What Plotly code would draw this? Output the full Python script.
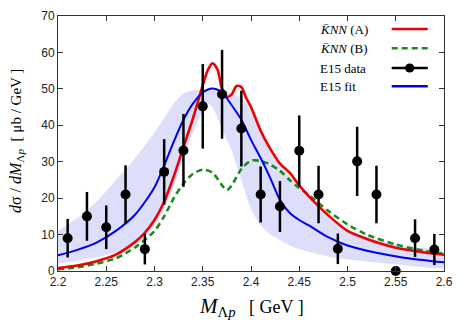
import plotly.graph_objects as go

# E15 data points
data_x = [2.21, 2.23, 2.25, 2.27, 2.29, 2.31, 2.33, 2.35, 2.37, 2.39,
          2.41, 2.43, 2.45, 2.47, 2.49, 2.51, 2.53, 2.55, 2.57, 2.59]
data_y = [9.0, 15.0, 12.0, 21.0, 6.0, 27.2, 33.1, 45.2, 48.5, 39.1,
          21.0, 17.7, 33.0, 21.0, 6.1, 30.1, 21.0, 0.0, 9.0, 5.9]
data_err = [5.3, 6.7, 6.0, 8.0, 4.2, 9.0, 10.0, 11.6, 12.2, 10.4,
            7.7, 7.0, 9.7, 7.9, 4.2, 9.5, 7.9, 0.0, 5.2, 4.3]

# KNN (A)
red_x = [2.20, 2.22, 2.24, 2.26, 2.28, 2.29, 2.30, 2.31, 2.32, 2.33, 2.34, 2.35,
         2.355, 2.36, 2.365, 2.37, 2.375, 2.38, 2.385, 2.39, 2.395, 2.40, 2.41,
         2.42, 2.43, 2.44, 2.45, 2.46, 2.47, 2.48, 2.50, 2.52, 2.55, 2.58, 2.60]
red_y = [0.8, 1.5, 2.7, 4.5, 8.0, 10.5, 14.0, 19.0, 26.0, 34.0, 42.0, 51.0,
         55.0, 57.0, 55.5, 50.0, 47.8, 48.5, 50.8, 50.5, 47.5, 45.0, 38.5,
         33.5, 29.5, 27.0, 23.5, 20.5, 17.8, 15.3, 11.0, 8.8, 6.4, 5.1, 4.5]

# KNN (B)
green_x = [2.20, 2.22, 2.24, 2.26, 2.28, 2.30, 2.31, 2.32, 2.33, 2.34, 2.35, 2.36,
           2.37, 2.375, 2.38, 2.39, 2.40, 2.41, 2.42, 2.43, 2.44, 2.45, 2.46,
           2.48, 2.50, 2.52, 2.55, 2.58, 2.60]
green_y = [0.5, 1.0, 2.0, 3.5, 6.5, 11.0, 15.0, 20.0, 24.0, 26.7, 27.8, 27.0,
           23.5, 22.2, 23.5, 28.0, 30.3, 30.2, 29.2, 27.5, 25.0, 22.8, 20.8,
           16.5, 12.8, 10.0, 7.3, 5.5, 4.7]

# E15 fit
blue_x = [2.20, 2.22, 2.24, 2.26, 2.28, 2.30, 2.31, 2.32, 2.33, 2.34, 2.35, 2.36,
          2.37, 2.38, 2.39, 2.40, 2.41, 2.42, 2.43, 2.44, 2.45, 2.46, 2.48,
          2.50, 2.53, 2.56, 2.60]
blue_y = [4.3, 5.8, 7.8, 11.0, 15.5, 23.0, 29.0, 35.5, 41.5, 46.0, 49.0, 50.1,
          49.0, 45.5, 41.5, 36.0, 31.0, 25.5, 19.5, 16.0, 14.0, 12.5, 9.3,
          7.0, 5.0, 3.6, 2.4]

# E15 fit uncertainty band
band_x = [2.20, 2.22, 2.24, 2.26, 2.28, 2.29, 2.30, 2.31, 2.32, 2.33, 2.34, 2.35,
          2.355, 2.36, 2.37, 2.38, 2.39, 2.40, 2.41, 2.42, 2.43, 2.44, 2.45,
          2.46, 2.48, 2.50, 2.53, 2.56, 2.60]
band_hi = [11.0, 14.5, 19.0, 25.0, 31.0, 34.5, 38.0, 42.0, 46.0, 48.7, 49.6, 49.8,
           49.8, 49.8, 49.7, 48.8, 47.5, 44.5, 38.0, 33.0, 29.0, 26.0, 22.5,
           20.0, 15.5, 11.5, 8.5, 6.7, 5.2]
band_lo = [2.0, 2.8, 3.8, 5.0, 7.5, 9.5, 12.5, 17.0, 23.0, 31.0, 38.0, 44.0,
           46.0, 45.0, 39.0, 33.0, 25.0, 17.0, 12.5, 10.0, 8.5, 7.0, 6.0,
           5.3, 4.0, 3.2, 2.3, 1.6, 1.0]

x_ticks = [2.2, 2.25, 2.3, 2.35, 2.4, 2.45, 2.5, 2.55, 2.6]
x_labels = ["2.2", "2.25", "2.3", "2.35", "2.4", "2.45", "2.5", "2.55", "2.6"]

RED = "#f00000"
GREEN = "#1a8a1a"
BLUE = "#0000ee"
BAND = "rgb(221,223,250)"

fig = go.Figure()

# band as a closed polygon
fig.add_trace(go.Scatter(
    x=band_x + band_x[::-1], y=band_hi + band_lo[::-1],
    fill="toself", fillcolor=BAND, line=dict(width=0, shape="spline", smoothing=0.6),
    mode="lines", hoverinfo="skip", showlegend=False))

fig.add_trace(go.Scatter(x=green_x, y=green_y, mode="lines", showlegend=False,
                         line=dict(color=GREEN, width=2.6, dash="6px,4px",
                                   shape="spline", smoothing=0.8)))
fig.add_trace(go.Scatter(x=red_x, y=red_y, mode="lines", showlegend=False,
                         line=dict(color=RED, width=2.6, shape="spline", smoothing=0.8)))
fig.add_trace(go.Scatter(x=blue_x, y=blue_y, mode="lines", showlegend=False,
                         line=dict(color=BLUE, width=2, shape="spline", smoothing=0.8)))
fig.add_trace(go.Scatter(
    x=data_x, y=data_y, mode="markers", showlegend=False, cliponaxis=False,
    marker=dict(color="black", size=10),
    error_y=dict(type="data", array=data_err, color="black", thickness=2.5, width=0)))

# hand-made legend (text left, sample right)
legend_rows = [0.949, 0.874, 0.796, 0.725]
legend_text = ["<i>K̄NN</i> (A)", "<i>K̄NN</i> (B)", "E15 data", "E15 fit"]
for ty, txt in zip(legend_rows, legend_text):
    fig.add_annotation(x=0.673, y=ty, xref="paper", yref="paper", text=txt,
                       showarrow=False, xanchor="left", yanchor="middle",
                       font=dict(family="Liberation Serif", size=13, color="black"))
samples = [(RED, None), (GREEN, "6px,4px"), ("black", None), (BLUE, None)]
for ty, (col, dsh) in zip(legend_rows, samples):
    fig.add_shape(type="line", xref="paper", yref="paper", x0=0.8645, x1=0.958,
                  y0=ty, y1=ty, line=dict(color=col, width=2.5, dash=dsh))
fig.add_shape(type="circle", xref="paper", yref="paper",
              x0=0.911 - 0.012, x1=0.911 + 0.012,
              y0=legend_rows[2] - 0.018, y1=legend_rows[2] + 0.018,
              fillcolor="black", line=dict(color="black", width=0))

# axis titles as annotations for exact placement
fig.add_annotation(x=0.5, y=-0.14, xref="paper", yref="paper", showarrow=False,
                   text=("<span style='font-size:21px'><i>M</i><sub>Λ<i>p</i></sub></span>"
                         "&nbsp;&nbsp;&nbsp;[ GeV ]"),
                   yanchor="middle",
                   font=dict(family="Liberation Serif", size=18, color="black"))
fig.add_annotation(x=-0.106, y=0.51, xref="paper", yref="paper", showarrow=False,
                   textangle=-90, xanchor="center", yanchor="middle",
                   text=("<span style='font-size:16px'><i>d</i>σ / <i>dM</i><sub>Λ<i>p</i></sub></span>"
                         "&nbsp;&nbsp;[ μb / GeV ]"),
                   font=dict(family="Liberation Serif", size=15, color="black"))

# page body has an 8px margin, so the margins are shifted to compensate
fig.update_layout(
    width=469, height=328,
    margin=dict(l=50, r=33, t=8, b=65),
    paper_bgcolor="white", plot_bgcolor="white",
    font=dict(family="Liberation Sans", size=12, color="#222"),
)
fig.update_xaxes(
    range=[2.2, 2.6], tickvals=x_ticks, ticktext=x_labels, automargin=False,
    ticks="inside", ticklen=5, tickcolor="#333", mirror="allticks",
    showline=True, linecolor="#333", linewidth=1, showgrid=False, zeroline=False,
)
fig.update_yaxes(
    range=[0, 70], tickvals=[0, 10, 20, 30, 40, 50, 60, 70], automargin=False,
    ticks="inside", ticklen=5, tickcolor="#333", mirror="allticks",
    showline=True, linecolor="#333", linewidth=1, showgrid=False, zeroline=False,
)

fig.write_html("out.html")
